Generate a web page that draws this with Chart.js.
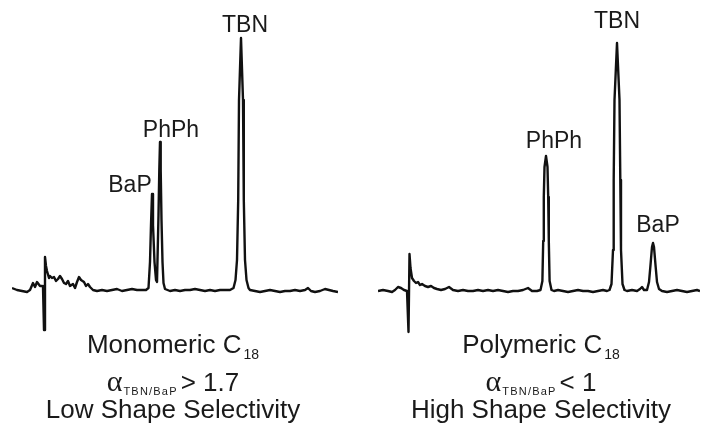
<!DOCTYPE html>
<html>
<head>
<meta charset="utf-8">
<script src="https://cdn.jsdelivr.net/npm/chart.js@4.4.1/dist/chart.umd.min.js"></script>
<style>
  body { margin: 0; background: #fff; width: 701px; height: 427px; position: relative; overflow: hidden;
         font-family: "Liberation Sans", Arial, sans-serif; color: #1a1a1a; }
  .trace { position: absolute; top: 0; height: 340px; }
  .cap { position: absolute; width: 340px; text-align: center; font-size: 26px; line-height: 26px; white-space: nowrap; }
  .cap sub { font-size: 14px; vertical-align: -6px; margin-left: 2px; line-height: 0; }
  .alpha { font-family: "Liberation Serif", "DejaVu Serif", serif; font-size: 30px; }
  .cap .ratio { font-size: 11px; letter-spacing: 1.2px; vertical-align: -4px; margin-left: 1px; margin-right: 3px; }
</style>
</head>
<body>
<div class="trace" style="left:12px;width:326px"><canvas id="monomeric"></canvas></div>
<div class="trace" style="left:378px;width:322px"><canvas id="polymeric"></canvas></div>

<div class="cap" style="left:3px;top:331px">Monomeric C<sub>18</sub></div>
<div class="cap" style="left:3px;top:368px"><span class="alpha">α</span><sub class="ratio">TBN/BaP</sub>&gt; 1.7</div>
<div class="cap" style="left:3px;top:396px">Low Shape Selectivity</div>

<div class="cap" style="left:371px;top:331px">Polymeric C<sub>18</sub></div>
<div class="cap" style="left:371px;top:368px"><span class="alpha">α</span><sub class="ratio">TBN/BaP</sub>&lt; 1</div>
<div class="cap" style="left:371px;top:396px">High Shape Selectivity</div>

<script>
// monomeric C18 column: retention time (min) and detector signal
const monoTime = [
  0.00, 0.25, 0.50, 0.75, 0.90, 1.05, 1.15, 1.25, 1.40, 1.50,
  1.55, 1.60, 1.65, 1.70, 1.75, 1.85, 1.90, 2.00, 2.10, 2.20,
  2.30, 2.40, 2.50, 2.60, 2.70, 2.80, 2.90, 3.05, 3.15, 3.25,
  3.35, 3.45, 3.60, 3.70, 3.80, 3.90, 4.05, 4.25, 4.50, 4.75,
  5.00, 5.25, 5.50, 5.75, 6.00, 6.25, 6.50, 6.70, 6.825, 6.90,
  6.95, 7.00, 7.05, 7.125, 7.20, 7.25, 7.325, 7.365, 7.40, 7.435,
  7.475, 7.525, 7.575, 7.65, 7.90, 8.15, 8.40, 8.65, 8.90, 9.15,
  9.40, 9.65, 9.90, 10.15, 10.40, 10.65, 10.90, 11.075, 11.175, 11.25,
  11.31, 11.35, 11.45, 11.55, 11.59, 11.65, 11.725, 11.825, 11.90, 12.15,
  12.40, 12.65, 12.90, 13.15, 13.40, 13.65, 13.90, 14.15, 14.40, 14.65,
  14.80, 14.95, 15.15, 15.40, 15.65, 15.85, 16.05, 16.30
];
const monoSignal = [
  0.8, 0, -0.4, -0.8, 0, 2.8, 1.2, 3.2, 1.6, 1.6,
  1.2, -16, 13.2, 9.6, 7.6, 4.8, 5.6, 4.8, 5.2, 3.6,
  4.4, 5.6, 4.4, 2.8, 2.4, 3.6, 1.6, 2.4, 0.8, 3.2,
  5.2, 4.0, 3.2, 1.6, 2.4, 1.2, 0, -0.4, 0, -0.4,
  0, 0.4, -0.4, 0, 0.4, 0, 0, 0, 0.8, 11.2,
  26, 38.4, 26, 11.2, 4, 3.2, 30, 48, 59.2, 48,
  28, 11.2, 2.8, 0.4, -0.4, 0, -0.4, 0, 0, 0.4,
  0, -0.4, 0, -0.4, 0, 0, 0, 0.8, 4, 12,
  36, 76, 100.8, 76, 36, 12, 4, 0.8, 0, -0.4,
  -0.8, -0.4, 0, -0.4, -0.8, -0.4, -0.4, 0, -0.4, 0,
  0.8, -0.4, -0.8, -0.4, 0.4, 0, -0.4, -0.8
];
const monoPeaks = ['BaP', 'PhPh', 'TBN'];
const monoPeakTimes = [7.00, 7.40, 11.45];

// polymeric C18 column
const polyTime = [
  0, 0.25, 0.50, 0.70, 0.85, 1.00, 1.15, 1.30, 1.45, 1.525,
  1.575, 1.625, 1.70, 1.80, 1.90, 2.00, 2.10, 2.20, 2.35, 2.50,
  2.65, 2.80, 2.95, 3.15, 3.35, 3.55, 3.75, 4.00, 4.25, 4.50,
  4.75, 5.00, 5.25, 5.50, 5.75, 6.00, 6.25, 6.50, 6.75, 7.00,
  7.25, 7.50, 7.70, 7.95, 8.125, 8.22, 8.26, 8.29, 8.325, 8.40,
  8.475, 8.51, 8.54, 8.58, 8.675, 8.80, 9.00, 9.25, 9.50, 9.75,
  10.00, 10.25, 10.50, 10.75, 11.00, 11.25, 11.45, 11.575, 11.675, 11.75,
  11.785, 11.825, 11.95, 12.075, 12.115, 12.15, 12.225, 12.325, 12.45, 12.70,
  12.95, 13.10, 13.20, 13.30, 13.45, 13.55, 13.625, 13.70, 13.75, 13.80,
  13.875, 13.95, 14.05, 14.20, 14.45, 14.70, 14.95, 15.20, 15.45, 15.70,
  15.95, 16.10
];
const polySignal = [
  0, 0.4, 0, -0.4, 0.4, 1.6, 1.2, 0.4, 0, -16.4,
  14.8, 9.2, 5.2, 4, 3.2, 3.6, 2.4, 2.8, 2, 1.6,
  2, 1.2, 0.8, 0.4, 0.8, 1.6, 0.4, 0, 0.4, 0,
  0, 0.4, 0, 0.4, 0, 0.4, 0, -0.4, 0, 0,
  0.4, 1.2, 0, 0, 0.4, 4, 20, 37.6, 49.6, 54,
  49.6, 37.6, 20, 4, 0.4, 0, 0.4, 0, -0.4, 0,
  0.4, 0, 0, -0.4, 0, 0.4, 0, 0.4, 2.8, 16.4,
  44.4, 76.4, 99.2, 76.4, 44.4, 16.4, 2.8, 0.4, 0, 0.4,
  0, 0.8, 1.6, 0.4, 0.4, 3.6, 10.4, 17.6, 19.2, 17.6,
  10.4, 3.6, 0.8, 0, -0.4, 0, 0.4, 0, -0.4, 0,
  0.4, 0
];
const polyPeaks = ['PhPh', 'TBN', 'BaP'];
const polyPeakTimes = [8.40, 11.95, 13.75];

// writes the compound name above each peak
const peakLabels = {
  id: 'peakLabels',
  afterDatasetsDraw(chart, args, opts) {
    const { ctx, scales } = chart;
    const ds = chart.data.datasets[0].data;
    ctx.save();
    ctx.font = '23px "Liberation Sans", Arial, sans-serif';
    ctx.fillStyle = '#1a1a1a';
    ctx.textAlign = 'center';
    ctx.textBaseline = 'alphabetic';
    opts.names.forEach((name, i) => {
      const pt = ds.find(p => p.x === opts.times[i]);
      const x = scales.x.getPixelForValue(pt.x) + opts.dx[i];
      const y = scales.y.getPixelForValue(pt.y) - opts.dy[i];
      ctx.fillText(name, x, y);
    });
    ctx.restore();
  }
};

function makeTrace(id, times, signal, xMax, yMax, names, peakTimes, dx, dy) {
  return new Chart(document.getElementById(id), {
    type: 'line',
    data: {
      datasets: [{
        data: times.map((t, i) => ({ x: t, y: signal[i] })),
        borderColor: '#111',
        borderWidth: 2.4,
        pointRadius: 0,
        tension: 0,
        borderJoinStyle: 'round',
        clip: false
      }]
    },
    options: {
      responsive: true,
      maintainAspectRatio: false,
      animation: false,
      events: [],
      layout: { padding: 0 },
      scales: {
        x: { type: 'linear', min: 0, max: xMax, display: false },
        y: { min: yMax - 136, max: yMax, display: false }
      },
      plugins: {
        legend: { display: false },
        tooltip: { enabled: false },
        peakLabels: { names: names, times: peakTimes, dx: dx, dy: dy }
      }
    },
    plugins: [peakLabels]
  });
}

makeTrace('monomeric', monoTime, monoSignal, 16.3, 116, monoPeaks, monoPeakTimes, [-22, 11, 4], [2, 5, 6]);
makeTrace('polymeric', polyTime, polySignal, 16.1, 116.4, polyPeaks, polyPeakTimes, [8, 0, 5], [8, 15, 11]);
</script>
</body>
</html>
